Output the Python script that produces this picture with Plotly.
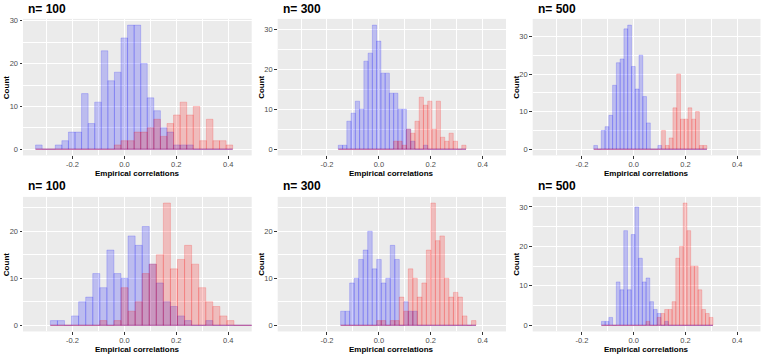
import plotly.graph_objects as go

# ---------------- data ----------------
PANEL_TITLES = ["n= 100", "n= 300", "n= 500", "n= 100", "n= 300", "n= 500"]

# histogram bins (left edge of first bin, bin width), 30 bins per panel
BIN_LO = [-0.3416, -0.1564, -0.1542, -0.2846, -0.1474, -0.1244]
BIN_W = [0.02528, 0.01641, 0.01457, 0.02717, 0.01739, 0.01436]

# counts per bin (blue group / red group)
BLUE_A = [1, 0, 0, 1, 2, 4, 4, 13, 6, 11, 23, 16, 18, 26, 29, 29, 20, 12, 9, 5, 4, 1, 1, 1, 0, 0, 0, 0, 0, 0]
RED_A = [0, 0, 0, 0, 0, 0, 0, 0, 0, 0, 0, 0, 1, 2, 2, 4, 4, 5, 7, 3, 6, 8, 11, 8, 10, 2, 7, 2, 2, 1]

BLUE_B = [1, 1, 7, 9, 12, 10, 22, 24, 31, 27, 19, 19, 14, 14, 10, 10, 5, 2, 0, 0, 1, 0, 0, 0, 0, 0, 0, 0, 0, 0]
RED_B = [0, 0, 0, 0, 0, 0, 0, 0, 0, 0, 0, 0, 0, 2, 2, 1, 5, 4, 7, 13, 11, 12, 5, 12, 3, 2, 4, 2, 0, 1]

BLUE_C = [1, 0, 5, 6, 9, 17, 23, 24, 32, 33, 22, 16, 25, 14, 7, 0, 0, 1, 0, 0, 0, 0, 0, 0, 0, 0, 0, 0, 0, 0]
RED_C = [0, 0, 0, 0, 0, 0, 0, 0, 0, 0, 0, 0, 0, 0, 0, 0, 0, 0, 5, 1, 3, 11, 20, 8, 8, 11, 8, 10, 1, 1]

BLUE_D = [1, 1, 0, 2, 5, 6, 11, 8, 16, 11, 10, 19, 17, 21, 13, 9, 5, 4, 2, 1, 0, 0, 1, 0, 0, 0, 0, 0, 0, 0]
RED_D = [0, 0, 0, 0, 0, 0, 0, 1, 0, 1, 8, 3, 5, 11, 13, 15, 26, 12, 14, 17, 13, 8, 5, 4, 2, 1, 0, 0, 0, 0]

BLUE_E = [3, 3, 9, 10, 14, 16, 20, 12, 14, 9, 10, 17, 14, 0, 5, 3, 3, 0, 0, 0, 0, 0, 0, 0, 0, 0, 0, 0, 0, 0]
RED_E = [0, 0, 0, 0, 0, 0, 0, 0, 1, 1, 0, 1, 1, 6, 3, 12, 10, 6, 9, 16, 26, 18, 19, 10, 6, 7, 6, 2, 0, 1]

BLUE_F = [1, 1, 2, 0, 11, 9, 24, 9, 23, 30, 17, 11, 12, 6, 4, 3, 0, 1, 0, 0, 0, 0, 0, 0, 0, 0, 0, 0, 0, 0]
RED_F = [0, 0, 0, 0, 0, 0, 0, 0, 0, 0, 0, 0, 1, 0, 0, 2, 3, 4, 4, 6, 17, 20, 31, 24, 15, 15, 9, 4, 3, 2]

BLUE = [BLUE_A, BLUE_B, BLUE_C, BLUE_D, BLUE_E, BLUE_F]
RED = [RED_A, RED_B, RED_C, RED_D, RED_E, RED_F]

X_TICKS = [-0.2, 0.0, 0.2, 0.4]
X_TICK_TEXT = ["-0.2", "0.0", "0.2", "0.4"]
X_LIMITS = [-0.35, 0.45]
X_TITLE = "Empirical correlations"
Y_TITLE = "Count"

# ---------------- layout geometry (pixels) ----------------
W, H = 763, 355
COLS = [(23, 251.7), (277.7, 506), (532.7, 760.5)]
ROWS = [(17, 154.3), (196, 331.3)]
TITLE_Y = [7.5, 185.5]
XTITLE_Y = [172.5, 349.4]

BLUE_FILL = "rgba(0,0,255,0.2)"
RED_FILL = "rgba(255,0,0,0.2)"
FONT = "Liberation Sans, Arial, Helvetica, sans-serif"

fig = go.Figure()
annotations = []

span = X_LIMITS[1] - X_LIMITS[0]
x_range = [X_LIMITS[0] - 0.05 * span, X_LIMITS[1] + 0.05 * span]

for i in range(6):
    r, c = divmod(i, 3)
    ax = "" if i == 0 else str(i + 1)
    xa, ya = "x" + ax, "y" + ax
    lo, w = BIN_LO[i], BIN_W[i]
    nb = len(BLUE[i])
    centers = [lo + w * (k + 0.5) for k in range(nb)]
    hi = lo + w * nb

    # zero-count baseline of each group's histogram
    for col in (BLUE_FILL, RED_FILL):
        fig.add_trace(go.Scatter(x=[lo, hi], y=[0, 0], mode="lines",
                                 line=dict(color=col, width=1),
                                 xaxis=xa, yaxis=ya, hoverinfo="skip",
                                 showlegend=False))
    for vals, col in ((BLUE[i], BLUE_FILL), (RED[i], RED_FILL)):
        fig.add_trace(go.Bar(x=centers, y=vals, width=w,
                             marker=dict(color=col, line=dict(color=col, width=0.9)),
                             xaxis=xa, yaxis=ya, hoverinfo="skip",
                             showlegend=False))

    ymax = max(max(BLUE[i]), max(RED[i]))
    y_range = [-0.05 * ymax, 1.05 * ymax]

    x0, x1 = COLS[c]
    y0, y1 = ROWS[r]
    xdom = [x0 / W, x1 / W]
    ydom = [1 - y1 / H, 1 - y0 / H]

    fig.layout["xaxis" + ax] = dict(
        domain=xdom, range=x_range, anchor=ya,
        tickvals=X_TICKS, ticktext=X_TICK_TEXT,
        ticks="outside", ticklen=2.5, tickwidth=0.8, tickcolor="#333333",
        ticklabelstandoff=-1,
        tickfont=dict(family=FONT, size=7.5, color="#4D4D4D"),
        showgrid=True, gridcolor="white", gridwidth=1, zeroline=False,
        showline=False,
        minor=dict(tickvals=[-0.3, -0.1, 0.1, 0.3], showgrid=True,
                   gridcolor="white", gridwidth=0.5, ticks=""),
        fixedrange=True,
    )
    fig.layout["yaxis" + ax] = dict(
        domain=ydom, range=y_range, anchor=xa,
        tick0=0, dtick=10,
        ticks="outside", ticklen=2.5, tickwidth=0.8, tickcolor="#333333",
        tickfont=dict(family=FONT, size=7.5, color="#4D4D4D"),
        showgrid=True, gridcolor="white", gridwidth=1, zeroline=False,
        showline=False,
        minor=dict(tick0=5, dtick=10, showgrid=True, gridcolor="white",
                   gridwidth=0.5, ticks=""),
        fixedrange=True,
    )

    annotations.append(dict(text="<b>" + PANEL_TITLES[i] + "</b>",
                            xref="paper", yref="paper",
                            x=(x0 + 3) / W, y=1 - TITLE_Y[r] / H,
                            xanchor="left", yanchor="middle", showarrow=False,
                            font=dict(family=FONT, size=12, color="black")))
    annotations.append(dict(text="<b>" + X_TITLE + "</b>",
                            xref="paper", yref="paper",
                            x=(x0 + x1) / 2 / W, y=1 - XTITLE_Y[r] / H,
                            xanchor="center", yanchor="middle", showarrow=False,
                            borderpad=0,
                            font=dict(family=FONT, size=8, color="black")))
    annotations.append(dict(text="<b>" + Y_TITLE + "</b>",
                            xref="paper", yref="paper",
                            x=(x0 - 17) / W, y=1 - (y0 + y1) / 2 / H,
                            xanchor="center", yanchor="middle", showarrow=False,
                            textangle=-90,
                            font=dict(family=FONT, size=8, color="black")))

fig.update_layout(
    width=W, height=H,
    margin=dict(l=0, r=0, t=0, b=0),
    paper_bgcolor="white", plot_bgcolor="#EBEBEB",
    barmode="overlay",
    showlegend=False,
    annotations=annotations,
    font=dict(family=FONT),
)

fig.write_html(
    "out.html",
    config={"displayModeBar": False},
    post_script="document.body.style.margin='0px';document.body.style.overflow='hidden';",
)
